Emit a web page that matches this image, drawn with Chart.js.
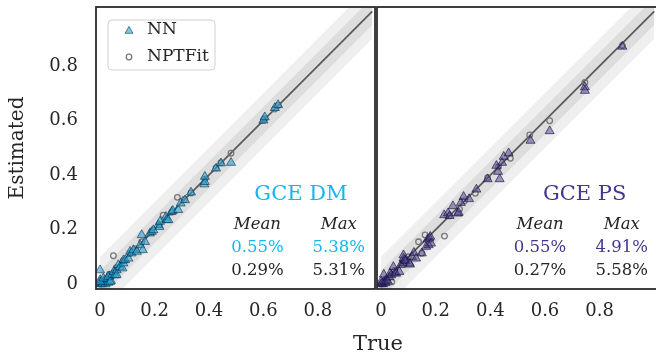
<!DOCTYPE html>
<html><head><meta charset="utf-8">
<script src="https://cdn.jsdelivr.net/npm/chart.js@4.4.1/dist/chart.umd.min.js"></script>
<style>
html,body{margin:0;padding:0;background:#fff;overflow:hidden;width:656px;height:354px;}
#wrap{position:relative;width:656px;height:354px;overflow:hidden;}
canvas{position:absolute;top:0;}
#c1{left:0;}
#c2{left:376px;}
#xt{position:absolute;left:318px;width:120px;top:331px;line-height:24px;text-align:center;font-family:'DejaVu Serif',serif;font-size:21px;color:#262626;}
</style>
</head><body>
<div id="wrap">
<canvas id="c1" width="376" height="354"></canvas>
<canvas id="c2" width="282" height="354"></canvas>
<div id="xt">True</div>
</div>
<script>
// ---------- data ----------
const xTicks = [0, 0.2, 0.4, 0.6, 0.8];
const yTicks = [0, 0.2, 0.4, 0.6, 0.8];
const tickLabels = ['0', '0.2', '0.4', '0.6', '0.8'];

const dmNNTrue = [0.0,0.004,0.008,0.012,0.016,0.02,0.0,0.025,0.03,0.035,0.04,0.0,0.0,0.012,0.03,0.037,0.045,0.05,0.055,0.061,0.061,0.067,0.073,0.082,0.086,0.086,0.092,0.104,0.11,0.116,0.122,0.135,0.147,0.157,0.153,0.165,0.183,0.19,0.196,0.214,0.218,0.22,0.242,0.245,0.251,0.263,0.267,0.287,0.296,0.312,0.334,0.383,0.385,0.385,0.426,0.444,0.481,0.6,0.605,0.642,0.654];
const dmNNEst  = [0.0,0.002,0.0,0.006,0.012,0.0,0.015,0.02,0.005,0.028,0.012,0.051,0.008,0.021,0.027,0.008,0.035,0.045,0.033,0.051,0.033,0.07,0.063,0.058,0.076,0.088,0.088,0.094,0.119,0.113,0.125,0.119,0.143,0.125,0.18,0.155,0.186,0.192,0.198,0.217,0.21,0.229,0.247,0.235,0.235,0.265,0.269,0.272,0.296,0.308,0.336,0.366,0.375,0.394,0.424,0.443,0.445,0.6,0.612,0.646,0.657];
const dmFitTrue = [0.0,0.01,0.02,0.035,0.049,0.06,0.085,0.11,0.13,0.153,0.19,0.218,0.232,0.263,0.284,0.31,0.334,0.385,0.426,0.444,0.481,0.6,0.605,0.642,0.654];
const dmFitEst  = [0.0,0.01,0.018,0.036,0.104,0.06,0.086,0.112,0.13,0.155,0.19,0.218,0.253,0.263,0.318,0.31,0.334,0.385,0.426,0.445,0.48,0.6,0.606,0.642,0.655];

const psNNTrue = [0.0,0.004,0.008,0.012,0.016,0.02,0.025,0.0,0.01,0.03,0.033,0.037,0.045,0.05,0.055,0.067,0.072,0.08,0.082,0.082,0.086,0.09,0.104,0.106,0.113,0.12,0.128,0.149,0.165,0.17,0.174,0.177,0.18,0.183,0.231,0.245,0.251,0.263,0.281,0.284,0.292,0.302,0.322,0.349,0.39,0.422,0.428,0.434,0.443,0.449,0.467,0.547,0.617,0.746,0.746,0.883];
const psNNEst  = [0.0,0.003,0.0,0.008,0.004,0.015,0.01,0.01,0.035,0.025,0.039,0.033,0.063,0.04,0.039,0.045,0.07,0.076,0.094,0.106,0.088,0.085,0.076,0.072,0.1,0.115,0.094,0.113,0.137,0.164,0.143,0.168,0.174,0.149,0.253,0.26,0.25,0.286,0.259,0.262,0.298,0.32,0.312,0.347,0.385,0.434,0.412,0.385,0.445,0.467,0.48,0.526,0.561,0.722,0.709,0.871];
const psFitTrue = [0.0,0.01,0.02,0.039,0.05,0.08,0.1,0.137,0.149,0.161,0.232,0.25,0.287,0.305,0.345,0.39,0.43,0.473,0.544,0.617,0.746,0.883];
const psFitEst  = [0.0,0.01,0.02,0.008,0.05,0.08,0.1,0.155,0.113,0.18,0.176,0.25,0.275,0.305,0.333,0.39,0.43,0.461,0.547,0.599,0.739,0.875];

const dmStats = ['0.55%', '5.38%', '0.29%', '5.31%'];
const psStats = ['0.55%', '4.91%', '0.27%', '5.58%'];

// ---------- helpers ----------
const FONT = "'DejaVu Serif', serif";
const INK = '#262626';
function pts(xs, ys) { return xs.map((x, i) => ({ x: x, y: ys[i] })); }
const bandOuter = 0.1, bandInner = 0.05;

function makeDatasets(nnX, nnY, fitX, fitY, nnFill, nnEdge) {
  const clear = 'rgba(0,0,0,0)';
  return [
    { label: 'NN', data: pts(nnX, nnY), pointStyle: 'triangle', pointRadius: 5.2, pointHoverRadius: 5.2,
      backgroundColor: nnFill, borderColor: nnEdge, borderWidth: 0.8, order: 0 },
    { label: 'NPTFit', data: pts(fitX, fitY), pointStyle: 'circle', pointRadius: 2.8, pointHoverRadius: 2.8,
      backgroundColor: clear, borderColor: 'rgba(115,115,115,0.95)', borderWidth: 1.3, order: 1 },
    { label: '_diag', data: [{ x: 0, y: 0 }, { x: 1, y: 1 }], showLine: true, pointRadius: 0,
      borderColor: '#585858', borderWidth: 1.7, order: 2 },
    { label: '_o1', data: [{ x: 0, y: bandOuter }, { x: 1, y: 1 + bandOuter }], showLine: true, pointRadius: 0,
      borderColor: clear, borderWidth: 0, backgroundColor: '#efefef', fill: '+1', order: 5 },
    { label: '_o2', data: [{ x: 0, y: -bandOuter }, { x: 1, y: 1 - bandOuter }], showLine: true, pointRadius: 0,
      borderColor: clear, borderWidth: 0, order: 5 },
    { label: '_i1', data: [{ x: 0, y: bandInner }, { x: 1, y: 1 + bandInner }], showLine: true, pointRadius: 0,
      borderColor: clear, borderWidth: 0, backgroundColor: '#dddddd', fill: '+1', order: 4 },
    { label: '_i2', data: [{ x: 0, y: -bandInner }, { x: 1, y: 1 - bandInner }], showLine: true, pointRadius: 0,
      borderColor: clear, borderWidth: 0, order: 4 }
  ];
}

const framePlugin = {
  id: 'frame',
  afterDatasetsDraw(chart) {
    const a = chart.chartArea, ctx = chart.ctx;
    ctx.save();
    ctx.strokeStyle = '#2b2b2b';
    ctx.lineWidth = 1.8;
    ctx.strokeRect(a.left, a.top, a.right - a.left, a.bottom - a.top);
    ctx.restore();
  }
};

const textPlugin = {
  id: 'panelText',
  afterDraw(chart, args, opts) {
    const ctx = chart.ctx, xs = chart.scales.x, ys = chart.scales.y;
    ctx.save();
    ctx.textAlign = 'center';
    ctx.textBaseline = 'middle';
    ctx.fillStyle = opts.color;
    ctx.font = '21px ' + FONT;
    ctx.fillText(opts.title, xs.getPixelForValue(opts.tx), ys.getPixelForValue(opts.ty));
    ctx.fillStyle = INK;
    ctx.font = 'italic 16.5px ' + FONT;
    ctx.fillText('Mean', xs.getPixelForValue(opts.c1), ys.getPixelForValue(opts.r0));
    ctx.fillText('Max', xs.getPixelForValue(opts.c2), ys.getPixelForValue(opts.r0));
    ctx.font = '16.5px ' + FONT;
    ctx.fillStyle = opts.color;
    ctx.fillText(opts.stats[0], xs.getPixelForValue(opts.c1), ys.getPixelForValue(opts.r1));
    ctx.fillText(opts.stats[1], xs.getPixelForValue(opts.c2), ys.getPixelForValue(opts.r1));
    ctx.fillStyle = INK;
    ctx.fillText(opts.stats[2], xs.getPixelForValue(opts.c1), ys.getPixelForValue(opts.r2));
    ctx.fillText(opts.stats[3], xs.getPixelForValue(opts.c2), ys.getPixelForValue(opts.r2));
    ctx.restore();
  }
};

const legendPlugin = {
  id: 'boxLegend',
  afterDraw(chart, args, opts) {
    if (!opts.show) return;
    const ctx = chart.ctx, a = chart.chartArea;
    const x0 = a.left + 12, y0 = a.top + 13, w = 107, h = 50, r = 4;
    ctx.save();
    ctx.beginPath();
    ctx.moveTo(x0 + r, y0);
    ctx.arcTo(x0 + w, y0, x0 + w, y0 + h, r);
    ctx.arcTo(x0 + w, y0 + h, x0, y0 + h, r);
    ctx.arcTo(x0, y0 + h, x0, y0, r);
    ctx.arcTo(x0, y0, x0 + w, y0, r);
    ctx.closePath();
    ctx.fillStyle = 'rgba(255,255,255,0.85)';
    ctx.fill();
    ctx.strokeStyle = '#d0d0d0';
    ctx.lineWidth = 1;
    ctx.stroke();
    const ds = chart.data.datasets;
    const tx = x0 + 21, ty = y0 + 10, tr = 4.6;
    ctx.beginPath();
    for (let k = 0; k < 3; k++) {
      const ang = k * 2 * Math.PI / 3;
      const px = tx + Math.sin(ang) * tr, py = ty - Math.cos(ang) * tr + 1;
      if (k === 0) ctx.moveTo(px, py); else ctx.lineTo(px, py);
    }
    ctx.closePath();
    ctx.fillStyle = ds[0].backgroundColor;
    ctx.fill();
    ctx.strokeStyle = ds[0].borderColor;
    ctx.lineWidth = 0.8;
    ctx.stroke();
    ctx.beginPath();
    ctx.arc(tx, y0 + 37, 2.8, 0, 2 * Math.PI);
    ctx.strokeStyle = ds[1].borderColor;
    ctx.lineWidth = 1.3;
    ctx.stroke();
    ctx.fillStyle = INK;
    ctx.font = '17px ' + FONT;
    ctx.textAlign = 'left';
    ctx.textBaseline = 'middle';
    ctx.fillText(ds[0].label, x0 + 39, ty);
    ctx.fillText(ds[1].label, x0 + 39, y0 + 37);
    ctx.restore();
  }
};

function makeOptions(showY, legend, text, padLeft) {
  return {
    responsive: false,
    animation: false,
    devicePixelRatio: 1,
    events: [],
    layout: { autoPadding: false, padding: { top: 7, right: 1, left: padLeft, bottom: 0 } },
    plugins: {
      legend: { display: false },
      tooltip: { enabled: false },
      boxLegend: { show: legend },
      panelText: text
    },
    scales: {
      x: {
        type: 'linear', min: -0.015, max: 1.01,
        grid: { display: false, drawTicks: false },
        border: { display: false },
        afterBuildTicks: (s) => { s.ticks = xTicks.map(v => ({ value: v })); },
        afterFit: (s) => { s.height = 65; s.paddingLeft = 0; s.paddingRight = 0; s.paddingTop = 0; s.paddingBottom = 0; },
        ticks: {
          font: { family: FONT, size: 18 }, color: INK, padding: 12,
          maxRotation: 0, autoSkip: false,
          callback: (v) => { const i = xTicks.indexOf(v); return i >= 0 ? tickLabels[i] : ''; }
        }
      },
      y: {
        type: 'linear', min: -0.018, max: 1.016, display: showY,
        grid: { display: false, drawTicks: false },
        border: { display: false },
        afterBuildTicks: (s) => { s.ticks = yTicks.map(v => ({ value: v })); },
        afterFit: (s) => { s.width = showY ? 96 : 0; s.paddingLeft = 0; s.paddingRight = 0; s.paddingTop = 0; s.paddingBottom = 0; },
        title: { display: true, text: 'Estimated', font: { family: FONT, size: 20 }, color: INK, padding: { top: 6, bottom: 0 } },
        ticks: {
          font: { family: FONT, size: 18 }, color: INK, padding: 18,
          autoSkip: false,
          callback: (v) => { const i = yTicks.indexOf(v); return i >= 0 ? tickLabels[i] : ''; }
        }
      }
    }
  };
}

new Chart(document.getElementById('c1'), {
  type: 'scatter',
  data: { datasets: makeDatasets(dmNNTrue, dmNNEst, dmFitTrue, dmFitEst, 'rgba(40,165,215,0.6)', 'rgba(0,45,75,0.75)') },
  options: makeOptions(true, true,
    { title: 'GCE DM', color: '#10b8f2', stats: dmStats, tx: 0.738, ty: 0.327, c1: 0.578, c2: 0.877, r0: 0.217, r1: 0.132, r2: 0.048 }, 0),
  plugins: [framePlugin, textPlugin, legendPlugin]
});

new Chart(document.getElementById('c2'), {
  type: 'scatter',
  data: { datasets: makeDatasets(psNNTrue, psNNEst, psFitTrue, psFitEst, 'rgba(72,61,139,0.5)', 'rgba(20,15,60,0.8)') },
  options: makeOptions(false, false,
    { title: 'GCE PS', color: '#40378f', stats: psStats, tx: 0.745, ty: 0.327, c1: 0.582, c2: 0.881, r0: 0.217, r1: 0.132, r2: 0.048 }, 1),
  plugins: [framePlugin, textPlugin, legendPlugin]
});
</script>
</body></html>
